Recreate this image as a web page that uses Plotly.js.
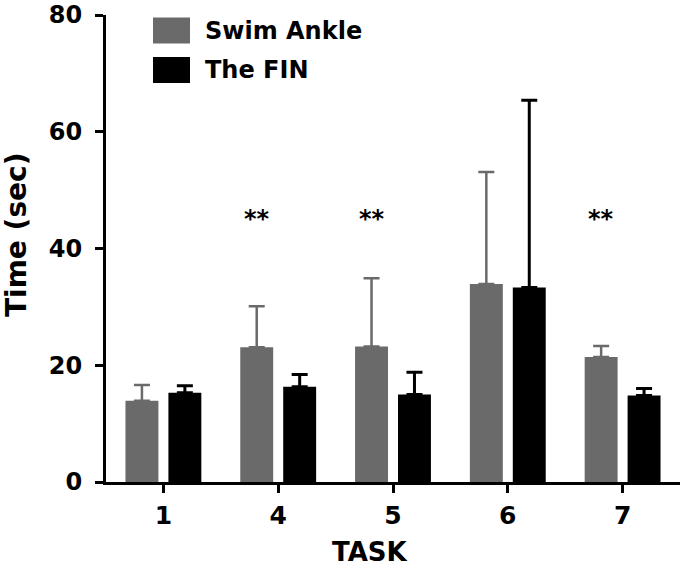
<!DOCTYPE html>
<html>
<head>
<meta charset="utf-8">
<script src="https://cdn.plot.ly/plotly-3.0.1.min.js"></script>
<style>html,body{margin:0;padding:0;background:#fff;}#chart{width:684px;height:567px;}</style>
</head>
<body>
<div id="chart"></div>
<script>
const tasks = ["1", "4", "5", "6", "7"];
const swimAnkle = [13.9, 23.1, 23.2, 33.9, 21.4];
const swimAnkleErr = [2.7, 7.0, 11.7, 19.2, 1.9];
const theFin = [15.3, 16.3, 15.0, 33.3, 14.8];
const theFinErr = [1.2, 2.1, 3.8, 32.1, 1.2];
const seriesNames = ["Swim Ankle", "The FIN"];
const sigTasks = ["4", "5", "7"];
const sigLabel = "**";
const sigLevel = 45;
const xTitle = "TASK";
const yTitle = "Time (sec)";

const grey = "#6a6a6a";
const black = "#000000";
const fontFam = "DejaVu Sans, Liberation Sans, Arial, sans-serif";

const traces = [
  {
    type: "bar", name: seriesNames[0], x: tasks, y: swimAnkle,
    marker: {color: grey, line: {width: 0}},
    error_y: {type: "data", symmetric: false, array: swimAnkleErr,
      arrayminus: swimAnkleErr.map(() => 0), color: grey, thickness: 2.5, width: 8},
    showlegend: false
  },
  {
    type: "bar", name: seriesNames[1], x: tasks, y: theFin,
    marker: {color: black, line: {width: 0}},
    error_y: {type: "data", symmetric: false, array: theFinErr,
      arrayminus: theFinErr.map(() => 0), color: black, thickness: 3, width: 8},
    showlegend: false
  }
];

const annotations = sigTasks.map(t => ({
  x: tasks.indexOf(t), y: sigLevel, xref: "x", yref: "y", text: "<b>" + sigLabel + "</b>", showarrow: false,
  xshift: -21.5, font: {family: fontFam, size: 24, color: "#000"}, yanchor: "middle"
}));

// axis titles
annotations.push({
  xref: "paper", yref: "paper", x: 0.46, y: 0, yshift: -70, yanchor: "middle",
  text: "<b>" + xTitle + "</b>", showarrow: false, font: {family: fontFam, size: 26, color: "#000"}
});
annotations.push({
  xref: "paper", yref: "paper", x: (16 - 106) / 574, y: 1 - (235 - 15) / 467,
  xanchor: "center", yanchor: "middle", textangle: -90,
  text: "<b>" + yTitle + "</b>", showarrow: false, font: {family: fontFam, size: 28, color: "#000"}
});

// legend
const legendY = [1.0 - (30.5 - 15) / 467, 1.0 - (70 - 15) / 467];
const shapes = [];
seriesNames.forEach((n, i) => {
  annotations.push({
    xref: "paper", yref: "paper", x: (203 - 106) / 574, y: legendY[i],
    xanchor: "left", yanchor: "middle", text: "<b>" + n + "</b>", showarrow: false,
    font: {family: fontFam, size: 24, color: "#000"}
  });
  shapes.push({
    type: "rect", xref: "paper", yref: "paper",
    x0: (153 - 106) / 574, x1: (190 - 106) / 574,
    y0: legendY[i] - 13 / 467, y1: legendY[i] + 13 / 467,
    fillcolor: i === 0 ? grey : black, line: {width: 0}
  });
});

const layout = {
  width: 684, height: 567,
  margin: {l: 106, r: 4, t: 15, b: 85, pad: 0},
  paper_bgcolor: "#fff", plot_bgcolor: "#fff",
  barmode: "group", bargap: 0.252, bargroupgap: 0.233,
  font: {family: fontFam, color: "#000"},
  xaxis: {
    type: "category", range: [-0.5, 4.5],
    tickvals: tasks, ticktext: tasks.map(t => "<b>" + t + "</b>"),
    showline: true, linecolor: "#000", linewidth: 3,
    ticks: "outside", ticklen: 8, tickwidth: 3, tickcolor: "#000",
    tickfont: {family: fontFam, size: 25, color: "#000"},
    ticklabelstandoff: 1,
    showgrid: false, zeroline: false, fixedrange: true
  },
  yaxis: {
    range: [0, 80], tickvals: [0, 20, 40, 60, 80],
    ticktext: ["<b>0</b>", "<b>20</b>", "<b>40</b>", "<b>60</b>", "<b>80</b>"],
    showline: true, linecolor: "#000", linewidth: 3,
    ticks: "outside", ticklen: 8, tickwidth: 3, tickcolor: "#000",
    tickfont: {family: fontFam, size: 24, color: "#000"},
    ticklabelstandoff: 8,
    showgrid: false, zeroline: false, fixedrange: true
  },
  annotations: annotations,
  shapes: shapes,
  showlegend: false
};

Plotly.newPlot("chart", traces, layout, {displayModeBar: false, staticPlot: true});
</script>
</body>
</html>
